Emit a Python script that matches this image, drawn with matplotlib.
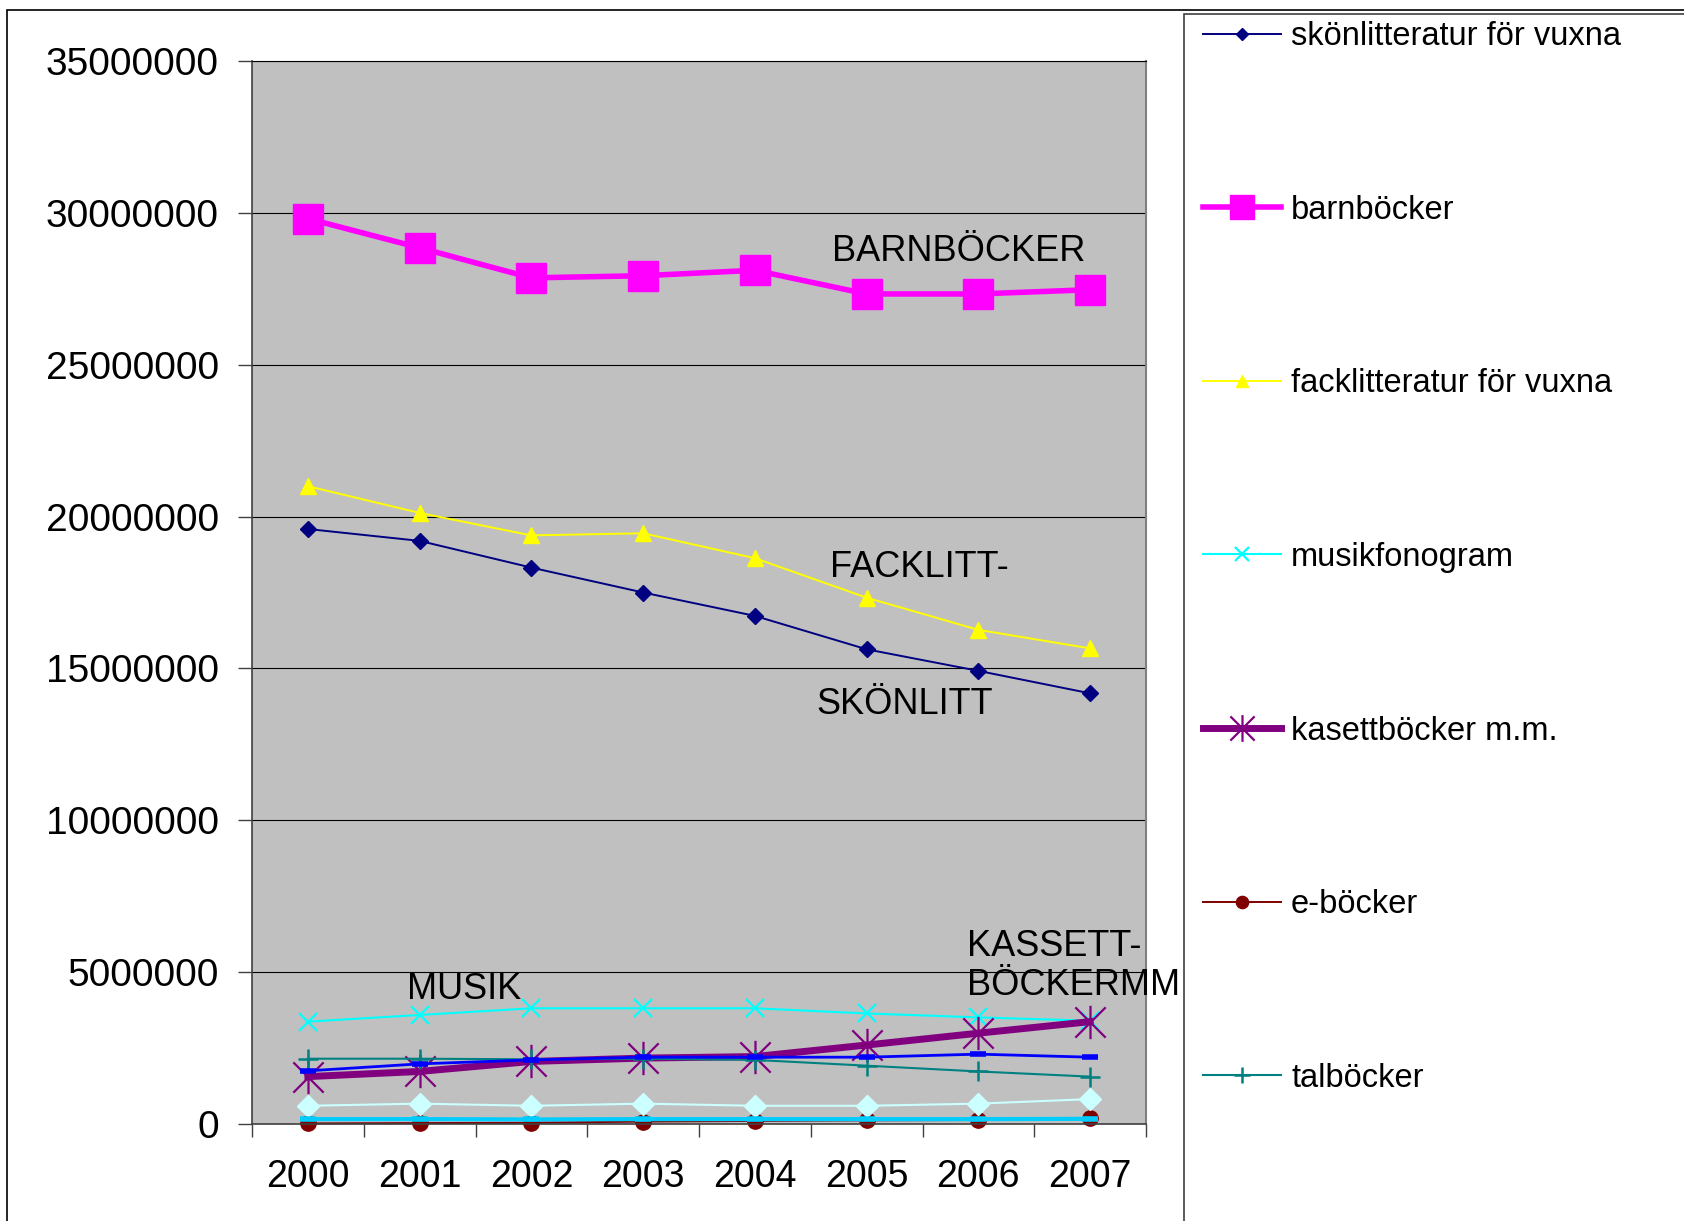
import numpy as np
import matplotlib.pyplot as plt
from matplotlib.path import Path
from matplotlib.patches import Rectangle

plt.rcParams['font.family'] = ['Liberation Sans', 'DejaVu Sans']

years = ['2000', '2001', '2002', '2003', '2004', '2005', '2006', '2007']

skonlitt = [19590000, 19200000, 18320000, 17500000, 16730000, 15630000, 14920000, 14180000]
barn = [29810000, 28850000, 27860000, 27930000, 28110000, 27330000, 27330000, 27470000]
fack = [21000000, 20120000, 19380000, 19450000, 18630000, 17330000, 16270000, 15660000]
musik = [3370000, 3590000, 3810000, 3810000, 3810000, 3640000, 3510000, 3400000]
kasett = [1560000, 1730000, 2060000, 2170000, 2220000, 2600000, 2990000, 3370000]
ebok = [20000, 30000, 40000, 80000, 100000, 120000, 130000, 200000]
tal = [2150000, 2150000, 2130000, 2150000, 2110000, 1920000, 1730000, 1560000]
# series whose legend entries fall below the visible part of the picture
serie_blue = [1750000, 1980000, 2110000, 2200000, 2200000, 2200000, 2300000, 2200000]
serie_lightcyan = [600000, 670000, 600000, 670000, 600000, 600000, 670000, 820000]
serie_skyblue = [160000, 160000, 150000, 160000, 160000, 160000, 160000, 170000]

W, H = 1684, 1221
fig = plt.figure(figsize=(W / 100, H / 100), dpi=100)
ax = fig.add_axes([252 / W, 1 - 1124 / H, 894 / W, (1124 - 61) / H])
ax.set_facecolor('#C0C0C0')

x = np.arange(len(years))

star = Path([(-1, -1), (1, 1), (-1, 1), (1, -1), (0, -1.1), (0, 1.1)],
            [Path.MOVETO, Path.LINETO, Path.MOVETO, Path.LINETO, Path.MOVETO, Path.LINETO])

h1, = ax.plot(x, skonlitt, color='#000080', lw=1.4, marker='D', ms=8, label='skönlitteratur för vuxna')
h2, = ax.plot(x, barn, color='#FF00FF', lw=4, marker='s', ms=21, label='barnböcker')
h3, = ax.plot(x, fack, color='#FFFF00', lw=1.4, marker='^', ms=11, label='facklitteratur för vuxna')
h4, = ax.plot(x, musik, color='#00FFFF', lw=1.5, marker='x', ms=13, mew=1.6, label='musikfonogram')
h5, = ax.plot(x, kasett, color='#800080', lw=5, marker=star, ms=24, mew=1.6, label='kasettböcker m.m.')
h6, = ax.plot(x, ebok, color='#800000', lw=1.4, marker='o', ms=11, label='e-böcker', clip_on=False)
h7, = ax.plot(x, tal, color='#008080', lw=1.5, marker='+', ms=14, mew=1.8, label='talböcker')
ax.plot(x, serie_blue, color='#0000FF', lw=2, marker='_', ms=11, mew=4)
ax.plot(x, serie_lightcyan, color='#CCFFFF', lw=1.5, marker='D', ms=11)
ax.plot(x, serie_skyblue, color='#00CCFF', lw=3, marker='_', ms=12, mew=4, clip_on=False)

ax.set_xlim(-0.5, 7.5)
ax.set_ylim(0, 35000000)
ax.set_yticks(np.arange(0, 35000001, 5000000))
ax.set_yticklabels([str(v) for v in range(0, 35000001, 5000000)])
ax.yaxis.grid(True, color='black', lw=0.8)
ax.set_axisbelow(True)

ax.set_xticks(np.arange(-0.5, 8, 1))
ax.set_xticklabels([])
ax.set_xticks(x, minor=True)
ax.set_xticklabels(years, minor=True)
ax.tick_params(axis='x', which='major', length=9, width=1, color='#404040')
ax.tick_params(axis='x', which='minor', length=0, pad=25, labelsize=27)
ax.tick_params(axis='y', length=10, width=1, color='#404040', pad=14, labelsize=28)

for side in ['left', 'bottom']:
    ax.spines[side].set_color('#404040')
    ax.spines[side].set_linewidth(1.2)
ax.spines['right'].set_color('#808080')
ax.spines['right'].set_linewidth(1.5)
ax.spines['top'].set_color('black')
ax.spines['top'].set_linewidth(0.8)

ann = dict(fontsize=26, va='center', ha='left', clip_on=False)
ax.text(4.69, 28730000, 'BARNBÖCKER', **ann)
ax.text(4.67, 18320000, 'FACKLITT-', **ann)
ax.text(4.55, 13820000, 'SKÖNLITT', **ann)
ax.text(0.89, 4430000, 'MUSIK', **ann)
ax.text(5.90, 5190000, 'KASSETT-\nBÖCKERMM', linespacing=1.15, **ann)

# frames (they run past the figure edge, as in the original)
fig.add_artist(Rectangle((7 / W, -0.1), 1.2, 1.1 - 10 / H, transform=fig.transFigure,
                         fill=False, edgecolor='black', lw=1.2))
fig.add_artist(Rectangle((1184 / W, -0.1), 0.5, 1.1 - 14 / H, transform=fig.transFigure,
                         fill=False, edgecolor='#404040', lw=1.2))

fig.legend(handles=[h1, h2, h3, h4, h5, h6, h7], loc='upper left',
           bbox_to_anchor=(1203 / W, 1 - 21 / H), frameon=False, fontsize=23.5,
           borderpad=0, borderaxespad=0, handlelength=2.4, handletextpad=0.3,
           labelspacing=4.37, markerscale=0.8)

fig.savefig('out.png', dpi=100)
